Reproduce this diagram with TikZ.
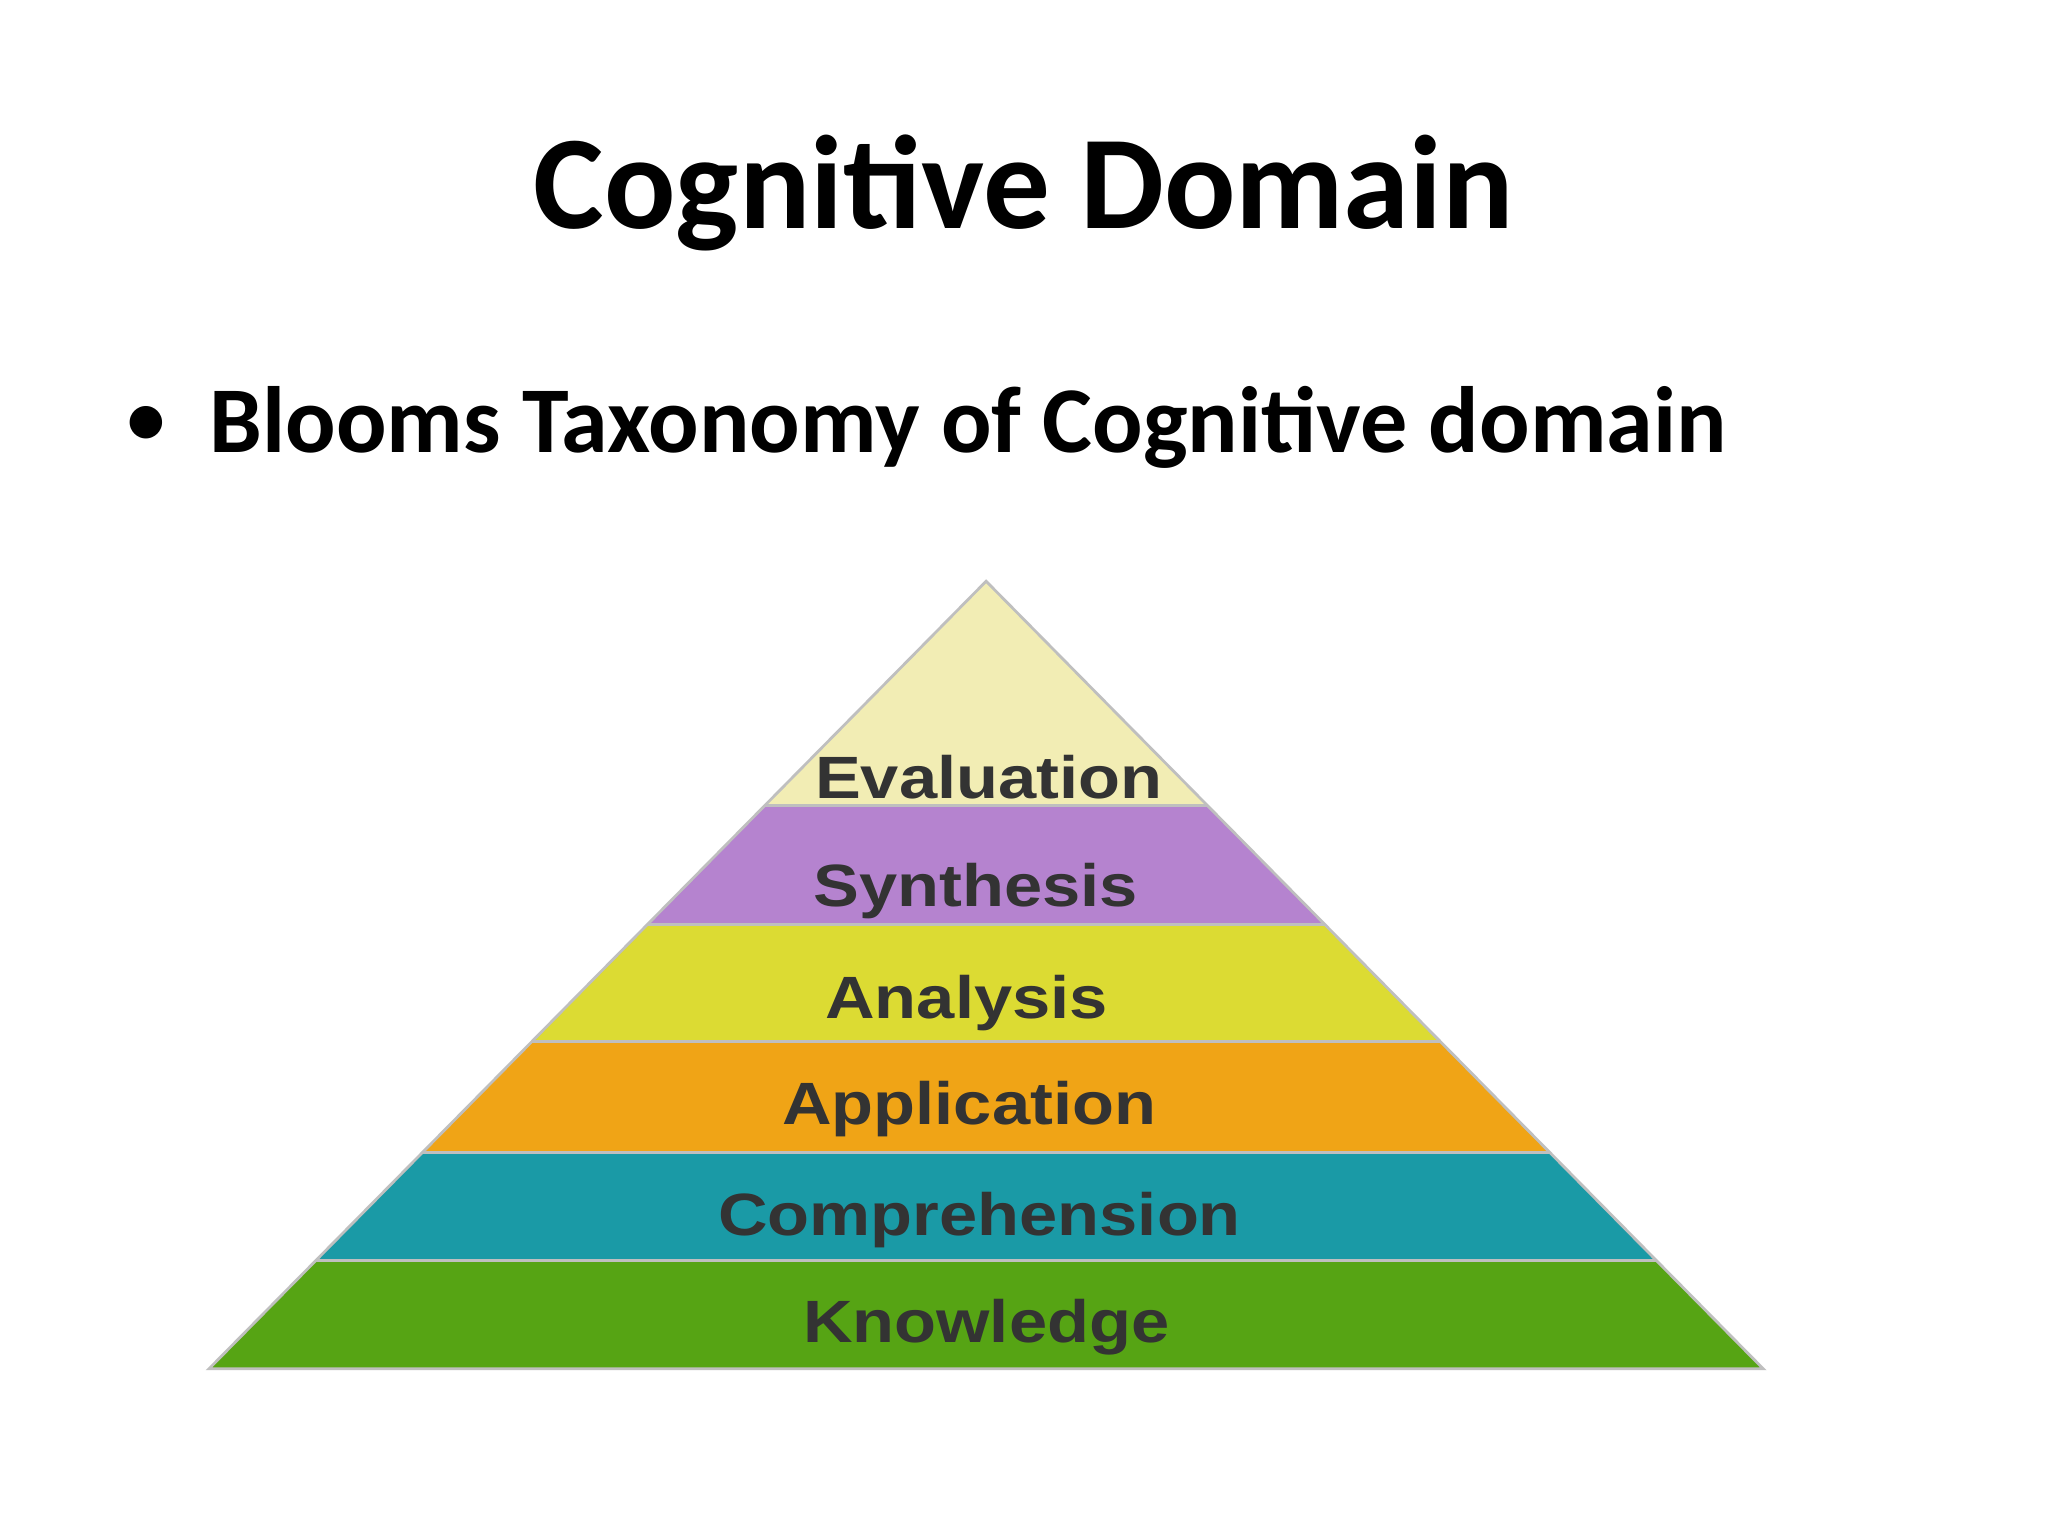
\documentclass[tikz,border=0pt]{standalone}
\usepackage{fontspec}
\setmainfont{Carlito}
\newfontfamily\lab{Liberation Sans}
\usetikzlibrary{calc}
\definecolor{cEva}{HTML}{F2EDB4}
\definecolor{cSyn}{HTML}{B583CF}
\definecolor{cAna}{HTML}{DCDB33}
\definecolor{cApp}{HTML}{F0A416}
\definecolor{cCom}{HTML}{1A9AA6}
\definecolor{cKno}{HTML}{56A414}
\begin{document}
\begin{tikzpicture}[x=0.01cm,y=-0.01cm,
  lbl/.style={font=\lab\bfseries\fontsize{13}{15}\selectfont, text=black!80, xscale=1.15},
  band/.style={draw=black!25, line width=0.6pt}]
\useasboundingbox[fill=white] (0,0) rectangle (1568,1176);
\node[font=\bfseries\fontsize{29}{34}\selectfont] (title) at (784,148) {Cognitive Domain};
\node[font=\fontsize{20}{24}\selectfont] (bul) at (112,327) {\textbullet};
\node[font=\bfseries\fontsize{20.5}{24}\selectfont, anchor=west] (sub) at (148,327) {Blooms Taxonomy of Cognitive domain};
\coordinate (A) at (755,445);
\coordinate (L) at (160,1048);
\coordinate (R) at (1350,1048);
\foreach \i/\t in {1/0.285,2/0.436,3/0.584,4/0.725,5/0.862,6/1}{
  \coordinate (l\i) at ($(A)!\t!(L)$);
  \coordinate (r\i) at ($(A)!\t!(R)$);}
\fill[cEva] (A) -- (l1) -- (r1) -- cycle;
\fill[cSyn] (l1) -- (l2) -- (r2) -- (r1) -- cycle;
\fill[cAna] (l2) -- (l3) -- (r3) -- (r2) -- cycle;
\fill[cApp] (l3) -- (l4) -- (r4) -- (r3) -- cycle;
\fill[cCom] (l4) -- (l5) -- (r5) -- (r4) -- cycle;
\fill[cKno] (l5) -- (l6) -- (r6) -- (r5) -- cycle;
\draw[band] (A) -- (L) -- (R) -- cycle;
\foreach \i in {1,...,5}{\draw[band] (l\i) -- (r\i);}
\node[lbl] (eva) at (757,595) {Evaluation};
\node[lbl] (syn) at (747,682) {Synthesis};
\node[lbl] (ana) at (740,768) {Analysis};
\node[lbl] (app) at (742,849) {Application};
\node[lbl] (com) at (750,934) {Comprehension};
\node[lbl] (kno) at (755,1016) {Knowledge};
\end{tikzpicture}
\end{document}
